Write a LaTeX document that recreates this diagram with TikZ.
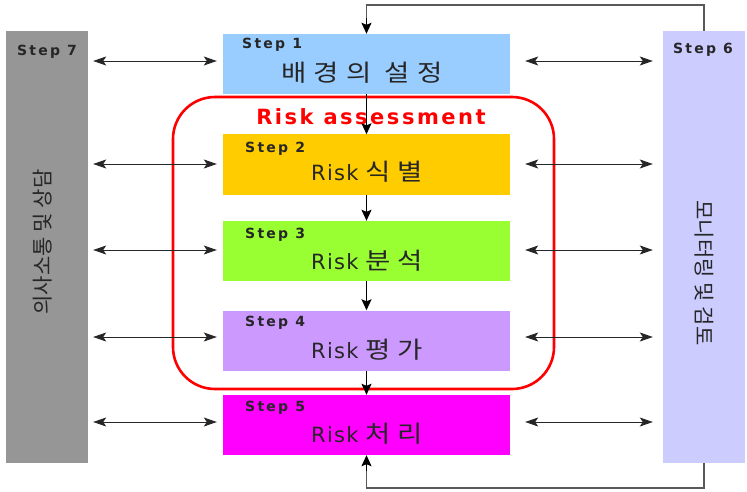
\documentclass[tikz,border=0pt]{standalone}
\usepackage{fontspec}
\setmainfont{DejaVu Sans}
\newfontfamily\kr{Noto Sans CJK KR}
\newfontfamily\krs[LetterSpace=30,FakeStretch=1.17]{Noto Sans CJK KR}
\newfontfamily\lts[LetterSpace=6]{DejaVu Sans}
\newfontfamily\ltb[LetterSpace=12]{DejaVu Sans}
\newfontfamily\stepf[LetterSpace=16]{DejaVu Sans}
\usetikzlibrary{arrows.meta}
\definecolor{c1}{HTML}{99CCFF}
\definecolor{c2}{HTML}{FFCC00}
\definecolor{c3}{HTML}{99FF33}
\definecolor{c4}{HTML}{CC99FF}
\definecolor{c5}{HTML}{FF00FF}
\definecolor{cg}{HTML}{969696}
\definecolor{cr}{HTML}{CCCCFF}
\definecolor{txt}{HTML}{262626}
\begin{document}
\begin{tikzpicture}[x=1pt,y=-1pt,
  stepbox/.style={draw=none,minimum width=287pt,minimum height=60pt,inner sep=0pt},
  bar/.style={draw=none,minimum width=82pt,minimum height=432pt,inner sep=0pt},
  steplbl/.style={font=\stepf\bfseries\fontsize{14}{16}\selectfont,text=txt,anchor=west,inner sep=0pt},
  mainlbl/.style={font=\fontsize{21}{24}\selectfont,text=txt,inner sep=0pt},
  vlbl/.style={font=\kr\fontsize{21}{24}\selectfont,text=txt,inner sep=0pt},
  flow/.style={line width=1.4pt,-{Stealth[length=11pt,width=10pt,inset=2pt]}},
  dbl/.style={line width=0.9pt,draw=black!85,{Stealth[length=13pt,width=9pt,inset=3pt]}-{Stealth[length=13pt,width=9pt,inset=3pt]}},
  fb/.style={line width=1.3pt,draw=black!65}
]
\useasboundingbox (0,0) rectangle (747,492);
\fill[white] (0,0) rectangle (747,492);
% bars
\node[bar,fill=cg] (lbar) at (47,247) {};
\node[bar,fill=cr] (rbar) at (704,247) {};
\node[steplbl,anchor=center] (l7) at (47,52) {Step 7};
\node[steplbl,anchor=center] (l6) at (703,50) {Step 6};
\node[vlbl,rotate=90] (t7) at (43,242) {의사소통 및 상담};
\node[vlbl,rotate=-90] (t6) at (704,273) {모니터링 및 검토};
% red assessment frame
\draw[red,line width=2.6pt,rounded corners=42pt] (173,97) rectangle (554,389);
\node[font=\ltb\bfseries\fontsize{21}{24}\selectfont,text=red,inner sep=0pt] (ra) at (371,117) {Risk assessment};
% step boxes
\node[stepbox,fill=c1] (s1) at (366.5,64) {};
\node[stepbox,fill=c2] (s2) at (366.5,164.5) {};
\node[stepbox,fill=c3] (s3) at (366.5,251) {};
\node[stepbox,fill=c4] (s4) at (366.5,340.5) {};
\node[stepbox,fill=c5] (s5) at (366.5,425) {};
\node[steplbl] (l1) at (242,45) {Step 1};
\node[steplbl] (l2) at (245,149) {Step 2};
\node[steplbl] (l3) at (245,235) {Step 3};
\node[steplbl] (l4) at (245,323) {Step 4};
\node[steplbl] (l5) at (245,408) {Step 5};
\node[mainlbl] (m1) at (362,73) {\krs\fontsize{23.5}{26}\selectfont 배경의 설정};
\node[mainlbl] (m2) at (367,172) {{\lts Risk} \krs\fontsize{23.5}{26}\selectfont 식별};
\node[mainlbl] (m3) at (367,261) {{\lts Risk} \krs\fontsize{23.5}{26}\selectfont 분석};
\node[mainlbl] (m4) at (367,350) {{\lts Risk} \krs\fontsize{23.5}{26}\selectfont 평가};
\node[mainlbl] (m5) at (367,434) {{\lts Risk} \krs\fontsize{23.5}{26}\selectfont 처리};
% flow arrows
\draw[flow] (s1.south) -- (s2.north);
\draw[flow] (s2.south) -- (s3.north);
\draw[flow] (s3.south) -- (s4.north);
\draw[flow] (s4.south) -- (s5.north);
% feedback loop
\coordinate (topy) at (0,5);
\coordinate (boty) at (0,488);
\draw[fb] (rbar.north) -- (rbar.north |- topy) -| ([yshift=12pt]s1.north);
\draw[flow,draw=black] ([yshift=16pt]s1.north) -- (s1.north);
\draw[fb] (rbar.south) -- (rbar.south |- boty) -| ([yshift=-12pt]s5.south);
\draw[flow,draw=black] ([yshift=-16pt]s5.south) -- (s5.south);
% horizontal double arrows
\foreach \s/\dy in {s1/3,s2/0.5,s3/1,s4/3.5,s5/3}{
  \draw[dbl] ([xshift=5pt,yshift=\dy pt]lbar.east |- \s.west) -- ([xshift=-6pt,yshift=\dy pt]\s.west);
  \draw[dbl] ([xshift=15pt,yshift=\dy pt]\s.east) -- ([xshift=-10pt,yshift=\dy pt]rbar.west |- \s.east);
}
\end{tikzpicture}
\end{document}
